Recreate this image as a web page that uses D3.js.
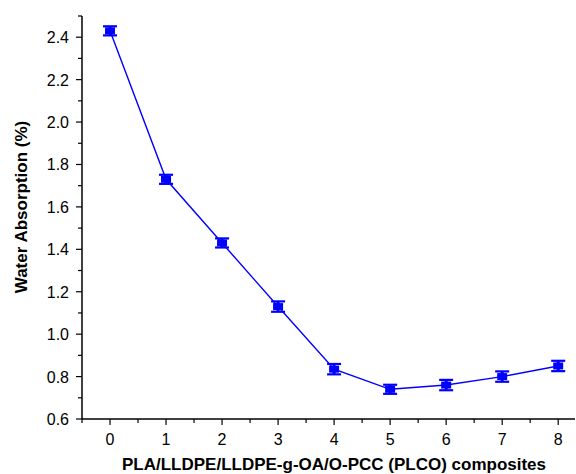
<!DOCTYPE html>
<html>
<head>
<meta charset="utf-8">
<script src="https://cdn.jsdelivr.net/npm/d3@7"></script>
<style>
  body { margin: 0; background: #fff; }
  text { font-family: "Liberation Sans", Arial, sans-serif; }
</style>
</head>
<body>
<div id="chart"></div>
<script>
let w = 576, h = 474;

// data
const samples = [0, 1, 2, 3, 4, 5, 6, 7, 8];
const absorption = [2.43, 1.73, 1.43, 1.13, 0.835, 0.74, 0.76, 0.80, 0.85];
const errors = [0.012, 0.012, 0.012, 0.015, 0.015, 0.012, 0.015, 0.015, 0.015];
const yTicks = [0.6, 0.8, 1.0, 1.2, 1.4, 1.6, 1.8, 2.0, 2.2, 2.4];

let svg = d3.select("#chart")
    .append("svg")
    .attr("width", w)
    .attr("height", h);

let x = d3.scaleLinear().domain([-0.5, 8.3]).range([82, 575]);
let y = d3.scaleLinear().domain([0.6, 2.5]).range([419, 16]);

// x axis
let xAxis = svg.append("g").attr("transform", "translate(0,419)");
xAxis.append("line").attr("x1", 82).attr("x2", 575)
    .attr("stroke", "#000").attr("stroke-width", 1.5);
let xMinor = d3.range(-0.5, 8.3, 0.5);
xAxis.selectAll(".xt").data(xMinor).enter().append("line")
    .attr("x1", d => x(d)).attr("x2", d => x(d))
    .attr("y1", 0).attr("y2", d => Number.isInteger(d) ? 6 : 4)
    .attr("stroke", "#000").attr("stroke-width", 1.2);
xAxis.selectAll(".xl").data(samples).enter().append("text")
    .attr("x", d => x(d)).attr("y", 26)
    .attr("text-anchor", "middle").attr("font-size", 16)
    .text(d => d);

// y axis
let yAxis = svg.append("g");
yAxis.append("line").attr("x1", 82).attr("x2", 82)
    .attr("y1", 16).attr("y2", 419)
    .attr("stroke", "#000").attr("stroke-width", 1.5);
let yMinor = d3.range(6, 26).map(d => d / 10);
yAxis.selectAll(".yt").data(yMinor).enter().append("line")
    .attr("x1", d => (Math.round(d * 10) % 2 === 0) ? 76 : 78).attr("x2", 82)
    .attr("y1", d => y(d)).attr("y2", d => y(d))
    .attr("stroke", "#000").attr("stroke-width", 1.2);
yAxis.selectAll(".yl").data(yTicks).enter().append("text")
    .attr("x", 69).attr("y", d => y(d) + 6)
    .attr("text-anchor", "end").attr("font-size", 16)
    .text(d => d.toFixed(1));

// axis titles
svg.append("text")
    .attr("x", 334).attr("y", 470)
    .attr("text-anchor", "middle").attr("font-size", 17).attr("font-weight", "bold")
    .text("PLA/LLDPE/LLDPE-g-OA/O-PCC (PLCO) composites");
svg.append("text")
    .attr("transform", "translate(27,207) rotate(-90)")
    .attr("text-anchor", "middle").attr("font-size", 17).attr("font-weight", "bold")
    .text("Water Absorption (%)");

// line
let pts = samples.map((s, i) => ({s: s, v: absorption[i], e: errors[i]}));
svg.append("path").datum(pts)
    .attr("d", d3.line().x(d => x(d.s)).y(d => y(d.v)))
    .attr("fill", "none").attr("stroke", "#0000ff").attr("stroke-width", 1.4);

// error bars and markers
let marks = svg.append("g").selectAll("g").data(pts).enter().append("g");
marks.append("line")
    .attr("x1", d => x(d.s)).attr("x2", d => x(d.s))
    .attr("y1", d => y(d.v + d.e) - 2).attr("y2", d => y(d.v - d.e) + 2)
    .attr("stroke", "#0000ff").attr("stroke-width", 3);
marks.append("line")
    .attr("x1", d => x(d.s) - 7).attr("x2", d => x(d.s) + 7)
    .attr("y1", d => y(d.v + d.e) - 2).attr("y2", d => y(d.v + d.e) - 2)
    .attr("stroke", "#0000ff").attr("stroke-width", 2.2);
marks.append("line")
    .attr("x1", d => x(d.s) - 7).attr("x2", d => x(d.s) + 7)
    .attr("y1", d => y(d.v - d.e) + 2).attr("y2", d => y(d.v - d.e) + 2)
    .attr("stroke", "#0000ff").attr("stroke-width", 2.2);
marks.append("rect")
    .attr("x", d => x(d.s) - 5).attr("y", d => y(d.v) - 3.5)
    .attr("width", 10).attr("height", 7)
    .attr("fill", "#0000ff");
</script>
</body>
</html>
